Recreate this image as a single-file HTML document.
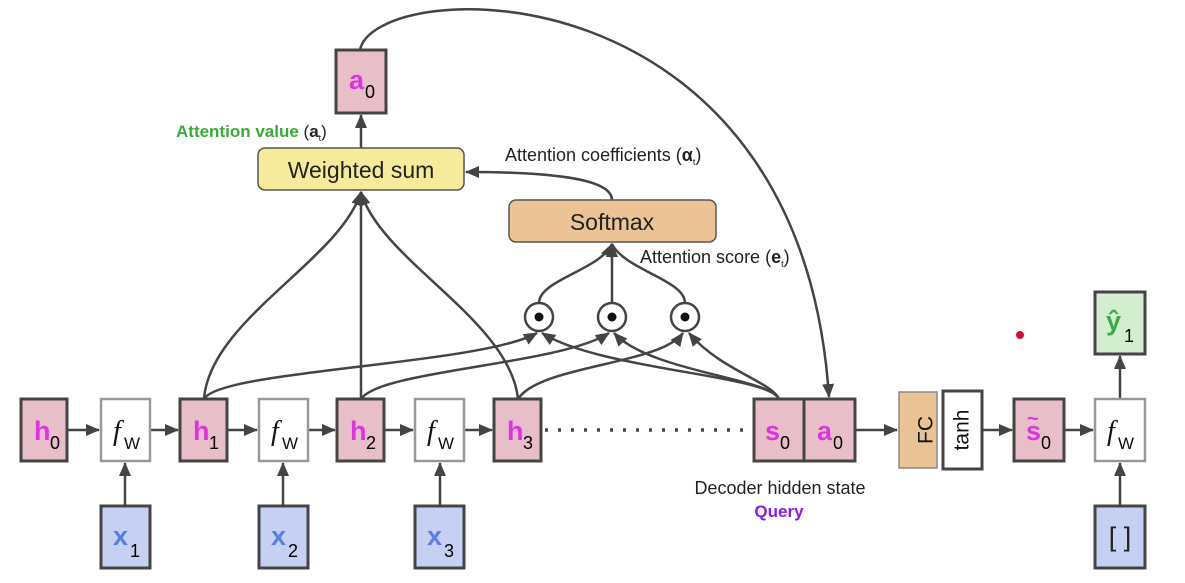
<!DOCTYPE html>
<html><head><meta charset="utf-8"><style>
body{margin:0;background:#fff;width:1185px;height:578px;overflow:hidden}
svg text{font-family:"Liberation Sans",sans-serif}
.b{stroke:#444;stroke-width:3}
.m{fill:#e033e0;font-weight:bold;font-size:27px}
.s{fill:#222;font-size:18px}
</style></head><body>
<svg width="1185" height="578" viewBox="0 0 1185 578">
<defs>
<marker id="A" markerWidth="14" markerHeight="12" refX="13" refY="6" orient="auto" markerUnits="userSpaceOnUse"><path d="M0,0L14,6L0,12z" fill="#444"/></marker></defs>
<g fill="none" stroke="#444" stroke-width="2.5">
<path d="M67 430H99" marker-end="url(#A)"/><path d="M150 430H178" marker-end="url(#A)"/>
<path d="M227 430H257" marker-end="url(#A)"/><path d="M308 430H335" marker-end="url(#A)"/>
<path d="M384 430H413" marker-end="url(#A)"/><path d="M464 430H492" marker-end="url(#A)"/>
<path d="M545 430H754" stroke-dasharray="3 10" stroke-width="3.5"/>
<path d="M855 430H897" marker-end="url(#A)"/><path d="M982 430H1012" marker-end="url(#A)"/>
<path d="M1064 430H1093" marker-end="url(#A)"/>
<path d="M125 506V463" marker-end="url(#A)"/><path d="M283 506V463" marker-end="url(#A)"/>
<path d="M440 506V463" marker-end="url(#A)"/><path d="M1120 506V463" marker-end="url(#A)"/>
<path d="M1120 399V356" marker-end="url(#A)"/>
<path d="M361 148V115" marker-end="url(#A)"/>
<path d="M204 399C210 320 340 260 361 192" marker-end="url(#A)"/>
<path d="M361 399V192" marker-end="url(#A)"/>
<path d="M518 399C510 320 380 260 361 192" marker-end="url(#A)"/>
<path d="M612 200C612 180 560 172 466 172" marker-end="url(#A)"/>
<path d="M539 303C539 280 600 270 612 244" marker-end="url(#A)"/>
<path d="M612 303V244" marker-end="url(#A)"/>
<path d="M685 303C685 280 625 270 612 244"/>
<path d="M204 399C220 370 480 365 537 333" marker-end="url(#A)"/>
<path d="M361 399C380 370 560 365 609 333" marker-end="url(#A)"/>
<path d="M518 399C540 365 660 365 683 333" marker-end="url(#A)"/>
<path d="M779 399C770 375 600 370 542 333" marker-end="url(#A)"/>
<path d="M779 399C770 378 650 372 614 333" marker-end="url(#A)"/>
<path d="M779 399C772 382 720 370 689 333" marker-end="url(#A)"/>
<path d="M360 50C375 -25 800 -40 829 397" marker-end="url(#A)"/>
</g>
<g stroke="#444" stroke-width="2.5" fill="#fff">
<circle cx="539" cy="317" r="14"/><circle cx="612" cy="317" r="14"/><circle cx="685" cy="317" r="14"/></g>
<circle cx="539" cy="317" r="4.5" fill="#111"/><circle cx="612" cy="317" r="4.5" fill="#111"/><circle cx="685" cy="317" r="4.5" fill="#111"/>
<g class="b">
<rect x="21" y="399" width="46" height="62" fill="#e8bfc9"/>
<rect x="180" y="399" width="47" height="62" fill="#e8bfc9"/>
<rect x="337" y="399" width="47" height="62" fill="#e8bfc9"/>
<rect x="494" y="399" width="47" height="62" fill="#e8bfc9"/>
<rect x="754" y="399" width="50" height="62" fill="#e8bfc9"/>
<rect x="804" y="399" width="51" height="62" fill="#e8bfc9"/>
<rect x="1014" y="399" width="50" height="62" fill="#e8bfc9"/>
<rect x="336" y="50" width="50" height="63" fill="#e8bfc9"/>
<rect x="101" y="506" width="49" height="62" fill="#c5d0f3"/>
<rect x="259" y="506" width="49" height="62" fill="#c5d0f3"/>
<rect x="415" y="506" width="49" height="62" fill="#c5d0f3"/>
<rect x="1095" y="506" width="50" height="62" fill="#c5d0f3"/>
<rect x="1095" y="292" width="50" height="62" fill="#d3eecf"/>
<rect x="943" y="391" width="39" height="78" fill="#fff"/>
</g>
<g stroke="#999" stroke-width="2.5" fill="#fff">
<rect x="101" y="399" width="49" height="62"/><rect x="259" y="399" width="49" height="62"/>
<rect x="415" y="399" width="49" height="62"/><rect x="1095" y="399" width="50" height="62"/>
</g>
<rect x="899" y="392" width="38" height="76" fill="#eac394" stroke="#888" stroke-width="1.5"/>
<rect x="258" y="148" width="206" height="42" rx="7" fill="#f5eb9b" stroke="#555" stroke-width="1.5"/>
<rect x="509" y="200" width="207" height="42" rx="7" fill="#ecc395" stroke="#555" stroke-width="1.5"/>
<text x="361" y="178" text-anchor="middle" font-size="23" fill="#222">Weighted sum</text>
<text x="612" y="230" text-anchor="middle" font-size="23" fill="#222">Softmax</text>
<g>
<text x="34" y="440" class="m">h</text><text x="50" y="449" font-size="18">0</text>
<text x="193" y="440" class="m">h</text><text x="209" y="449" font-size="18">1</text>
<text x="350" y="440" class="m">h</text><text x="366" y="449" font-size="18">2</text>
<text x="507" y="440" class="m">h</text><text x="523" y="449" font-size="18">3</text>
<text x="765" y="440" class="m">s</text><text x="780" y="449" font-size="18">0</text>
<text x="817" y="440" class="m">a</text><text x="833" y="449" font-size="18">0</text>
<text x="349" y="89" class="m">a</text><text x="365" y="98" font-size="18">0</text>
<text x="1026" y="440" class="m">s</text><text x="1027" y="425" font-size="20" fill="#e033e0" font-weight="bold">~</text><text x="1041" y="449" font-size="18">0</text>
<g font-size="27" font-weight="bold" fill="#5b7be6">
<text x="113" y="545">x</text><text x="271" y="545">x</text><text x="427" y="545">x</text></g>
<text x="130" y="557" font-size="18">1</text><text x="288" y="557" font-size="18">2</text><text x="444" y="557" font-size="18">3</text>
<text x="1120" y="546" text-anchor="middle" font-size="27" fill="#222">[ ]</text>
<text x="1106" y="330" font-size="27" font-weight="bold" fill="#3ea84a">ŷ</text><text x="1124" y="342" font-size="18">1</text>
<g font-size="28" font-style="italic" fill="#111">
<text x="113" y="440" style="font-family:'Liberation Serif',serif">f</text><text x="271" y="440" style="font-family:'Liberation Serif',serif">f</text><text x="427" y="440" style="font-family:'Liberation Serif',serif">f</text><text x="1107" y="440" style="font-family:'Liberation Serif',serif">f</text></g>
<g font-size="17" fill="#111"><text x="124" y="449">W</text><text x="282" y="449">W</text><text x="438" y="449">W</text><text x="1118" y="449">W</text></g>
<text transform="translate(926,430) rotate(-90)" text-anchor="middle" dominant-baseline="central" font-size="21" fill="#111">FC</text>
<text transform="translate(962,430) rotate(-90)" text-anchor="middle" dominant-baseline="central" font-size="21" fill="#111">tanh</text>
<text x="176" y="137" font-size="17" font-weight="bold" fill="#3aaa3a">Attention value <tspan fill="#222" font-weight="normal">(</tspan><tspan fill="#222">a</tspan><tspan fill="#222" font-size="9" font-weight="normal" dy="4">t</tspan><tspan fill="#222" font-weight="normal" dy="-4">)</tspan></text>
<text x="505" y="161" class="s">Attention coefficients (<tspan font-weight="bold">α</tspan><tspan font-size="9" dy="4">t</tspan><tspan dy="-4">)</tspan></text>
<text x="640" y="263" class="s">Attention score (<tspan font-weight="bold">e</tspan><tspan font-size="9" dy="4">t</tspan><tspan dy="-4">)</tspan></text>
<text x="780" y="494" class="s" text-anchor="middle">Decoder hidden state</text>
<text x="779" y="517" font-size="17" font-weight="bold" fill="#8a1be0" text-anchor="middle">Query</text>
</g>
<circle cx="1020" cy="335" r="4" fill="#d0103a"/>
</svg>
</body></html>
